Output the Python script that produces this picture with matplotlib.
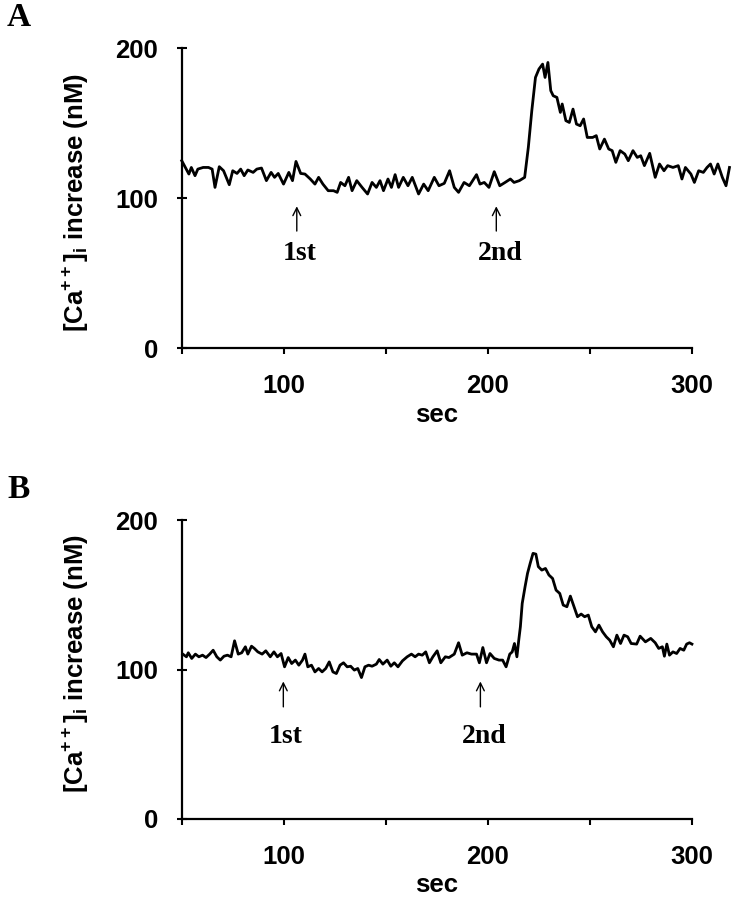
import matplotlib
matplotlib.use("Agg")
import matplotlib.pyplot as plt

# Panel A trace (sec, nM)
a_sec = [50.0, 51.8, 53.5, 54.7, 56.5, 57.9, 60.5, 63.1, 64.9, 66.3, 68.4, 70.5, 73.3, 75.0,
         77.1, 78.9, 80.6, 82.4, 85.0, 86.8, 89.1, 91.5, 93.8, 95.5, 97.3, 99.9, 102.5, 104.3,
         106.0, 108.3, 110.4, 113.0, 115.3, 117.1, 119.2, 121.8, 124.4, 126.2, 127.9, 130.0,
         131.8, 133.5, 135.8, 138.4, 141.1, 143.3, 145.4, 147.2, 148.9, 151.1, 152.8, 154.6,
         156.3, 158.6, 160.9, 163.0, 166.1, 168.6, 170.8, 173.8, 176.1, 178.7, 181.3, 183.6,
         185.7, 188.4, 191.0, 194.5, 196.2, 198.3, 200.6, 203.2, 205.9, 208.5, 211.1, 212.9,
         215.5, 218.1, 219.9, 221.6, 223.4, 225.1, 226.9, 228.1, 229.5, 230.9, 232.1, 233.9,
         235.6, 236.5, 238.3, 240.0, 241.8, 243.5, 245.3, 247.0, 248.8, 251.4, 253.2, 254.9,
         257.2, 259.3, 261.0, 262.8, 264.9, 267.2, 268.9, 271.2, 273.3, 275.0, 276.8, 279.4,
         282.1, 284.2, 286.4, 288.2, 290.8, 293.4, 295.2, 296.9, 299.6, 301.3, 303.4, 305.7,
         307.5, 309.2, 311.0, 312.8, 315.0, 316.8, 318.5]
a_val = [124.9, 120.4, 116.0, 120.4, 114.9, 119.3, 120.4, 120.4, 119.3, 107.1, 120.9, 118.2,
         108.9, 118.2, 116.4, 119.3, 114.9, 118.7, 117.1, 119.3, 120.0, 111.6, 117.1, 113.8,
         116.4, 109.3, 117.1, 111.6, 124.4, 116.4, 116.0, 112.7, 109.3, 113.8, 109.3, 104.9,
         104.9, 103.8, 110.4, 108.2, 113.8, 104.9, 111.6, 107.1, 102.7, 110.4, 107.1, 111.6,
         104.9, 112.7, 107.1, 115.6, 107.1, 113.8, 108.2, 113.8, 102.7, 109.3, 104.9, 113.8,
         108.2, 109.8, 118.2, 107.1, 103.8, 110.4, 108.2, 115.6, 109.3, 110.4, 107.1, 117.6,
         108.2, 110.4, 112.7, 110.4, 111.6, 113.8, 133.8, 158.2, 180.4, 186.0, 189.3, 180.4,
         190.4, 171.6, 168.2, 167.1, 157.1, 162.7, 151.6, 150.4, 159.3, 149.3, 148.2, 152.7,
         140.4, 140.4, 141.6, 132.7, 139.3, 132.7, 131.6, 123.8, 131.6, 129.3, 124.9, 131.6,
         127.1, 128.2, 121.6, 129.8, 113.8, 122.7, 118.2, 121.6, 120.4, 121.6, 112.7, 120.4,
         116.0, 110.4, 118.2, 117.1, 120.4, 122.7, 116.0, 122.7, 113.8, 108.2, 120.4]

# Panel B trace (sec, nM)
b_sec = [50.5, 52.3, 53.2, 54.9, 56.7, 58.4, 60.2, 61.9, 63.7, 65.4, 67.2, 68.9, 70.7, 72.4,
         74.2, 75.9, 77.7, 79.4, 81.2, 82.4, 84.2, 85.6, 87.3, 89.4, 91.2, 93.4, 95.2, 96.9,
         98.7, 100.4, 102.2, 103.9, 105.7, 107.4, 109.2, 110.4, 111.8, 113.6, 115.3, 117.1,
         118.8, 120.6, 122.3, 124.1, 125.8, 127.6, 129.3, 131.1, 132.8, 134.6, 136.3, 138.1,
         139.8, 141.6, 143.3, 145.4, 146.8, 148.6, 150.7, 152.5, 154.2, 156.0, 158.2, 160.5,
         162.6, 164.4, 166.1, 167.9, 169.6, 171.4, 173.1, 175.2, 177.0, 179.2, 181.0, 183.6,
         185.7, 187.5, 189.8, 192.0, 194.5, 195.9, 197.6, 199.4, 201.1, 203.2, 205.5, 207.3,
         209.0, 210.8, 212.0, 213.1, 214.3, 215.2, 216.0, 216.9, 218.3, 219.5, 220.8, 222.2,
         223.6, 224.8, 226.5, 228.3, 230.0, 231.8, 233.5, 235.3, 237.0, 238.8, 240.5, 242.3,
         244.0, 245.8, 247.5, 249.3, 251.0, 252.8, 254.5, 256.3, 258.1, 259.8, 261.6, 263.3,
         265.1, 266.8, 268.6, 270.3, 273.0, 274.7, 277.3, 279.9, 282.1, 283.8, 285.6, 286.6,
         287.8, 289.1, 290.8, 292.6, 294.3, 296.1, 297.5, 298.9, 300.1]
b_val = [110.3, 108.5, 111.2, 107.4, 110.3, 108.5, 109.6, 108.0, 110.3, 112.9, 108.5, 106.3,
         108.9, 109.6, 108.5, 119.2, 110.3, 111.2, 115.2, 110.3, 115.6, 114.1, 111.8, 110.3,
         112.5, 108.5, 111.8, 108.5, 110.7, 101.8, 108.0, 104.0, 106.3, 102.9, 106.3, 110.3,
         101.8, 102.9, 98.4, 100.7, 98.4, 100.7, 105.1, 98.4, 97.3, 102.9, 104.5, 101.8,
         102.2, 99.6, 100.7, 94.6, 101.8, 102.9, 102.2, 103.6, 106.7, 103.6, 106.3, 102.2,
         104.5, 101.8, 105.8, 108.5, 110.3, 108.5, 110.3, 109.6, 111.8, 104.5, 108.5, 112.5,
         104.5, 108.5, 108.0, 110.3, 117.9, 109.6, 111.2, 110.3, 110.3, 104.5, 114.7, 104.5,
         110.7, 107.4, 106.3, 106.3, 101.8, 110.3, 111.8, 117.4, 108.5, 119.6, 128.6, 144.2,
         155.4, 164.3, 171.0, 177.7, 177.2, 168.8, 166.5, 167.6, 163.2, 160.9, 153.1, 150.9,
         143.1, 142.0, 149.1, 142.0, 135.3, 137.1, 135.3, 136.4, 128.6, 125.2, 129.7, 125.2,
         121.9, 119.6, 115.2, 123.0, 117.4, 123.0, 121.9, 117.4, 117.0, 122.3, 118.5, 120.8,
         117.9, 114.1, 115.2, 108.9, 117.0, 109.6, 111.8, 110.7, 114.1, 112.9, 117.0, 117.9,
         117.0]

x_ticks = [50, 100, 150, 200, 250, 300]
x_labels = ['', '100', '', '200', '', '300']
y_ticks = [0, 100, 200]

# stimulus arrows: (label, arrow x, text x)
a_marks = [('1st', 106.4, 107.7), ('2nd', 204.2, 206.0)]
b_marks = [('1st', 99.8, 101.0), ('2nd', 196.4, 198.4)]

plt.rcParams['font.family'] = ['Liberation Sans', 'DejaVu Sans']
plt.rcParams['mathtext.fontset'] = 'custom'
plt.rcParams['mathtext.rm'] = 'Liberation Sans:bold'
plt.rcParams['mathtext.bf'] = 'Liberation Sans:bold'

fig = plt.figure(figsize=(7.34, 9.0), dpi=100)
ax_a = fig.add_axes([0.2476, 0.6133, 0.7504, 0.3333])
ax_b = fig.add_axes([0.2476, 0.0900, 0.7504, 0.3322])

ylab = r'[Ca$^{++}$]$_{\mathrm{i}}$ increase (nM)'
serif = ['Liberation Serif', 'DejaVu Serif']


def style(ax, ylab_y, xlab_y):
    ax.set_xlim(50, 320)
    ax.set_ylim(0, 200)
    for s in ['top', 'right']:
        ax.spines[s].set_visible(False)
    ax.spines['left'].set_linewidth(1.6)
    ax.spines['bottom'].set_linewidth(1.6)
    ax.spines['bottom'].set_bounds(50, 300)
    ax.set_xticks(x_ticks)
    ax.set_xticklabels(x_labels)
    ax.set_yticks(y_ticks)
    ax.tick_params(axis='x', direction='out', length=4.5, width=1.5, pad=14,
                   labelsize=18.5)
    ax.tick_params(axis='y', direction='inout', length=6.5, width=1.5, pad=14,
                   labelsize=18.5)
    for t in ax.get_xticklabels() + ax.get_yticklabels():
        t.set_fontweight('bold')
    ax.set_xlabel('sec', fontsize=18.5, fontweight='bold')
    ax.xaxis.set_label_coords((175 - 50) / 270, xlab_y)
    ax.xaxis.label.set_va('top')
    ax.set_ylabel(ylab, fontsize=18.5, fontweight='bold')
    ax.yaxis.set_label_coords(-0.193, ylab_y)
    ax.yaxis.label.set_va('center')


def marks(ax, items, tip, tail, text_y):
    for lab, xa, xt in items:
        ax.annotate('', xy=(xa, tip), xytext=(xa, tail),
                    arrowprops=dict(arrowstyle='->', lw=1.0, color='black',
                                    mutation_scale=14, shrinkA=0, shrinkB=0))
        ax.text(xt, text_y, lab, ha='center', va='center', fontsize=20,
                fontweight='bold', family=serif)


ax_a.plot(a_sec, a_val, color='black', lw=2.0, clip_on=False)
ax_b.plot(b_sec, b_val, color='black', lw=2.0, clip_on=False)
style(ax_a, 0.485, -0.183)
style(ax_b, 0.52, -0.18)
marks(ax_a, a_marks, 94.5, 78, 63)
marks(ax_b, b_marks, 92, 75, 55)

fig.text(19 / 734, 1 - 17 / 900, 'A', ha='center', va='center', fontsize=24,
         fontweight='bold', family=serif)
fig.text(19 / 734, 1 - 489 / 900, 'B', ha='center', va='center', fontsize=24,
         fontweight='bold', family=serif)

fig.savefig('out.png', dpi=100, facecolor='white')
